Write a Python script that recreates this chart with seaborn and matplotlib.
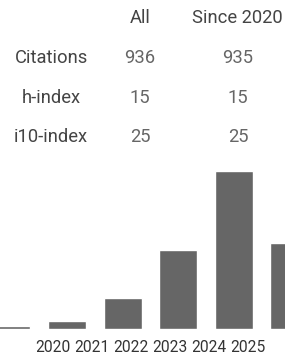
import matplotlib
matplotlib.use("Agg")
import matplotlib.pyplot as plt
import seaborn as sns
import pandas as pd

years = ["2020", "2021", "2022", "2023", "2024", "2025"]
citations = [9, 20, 81, 201, 403, 221]

row_labels = ["Citations", "h-index", "i10-index"]
col_labels = ["All", "Since 2020"]
all_vals = ["936", "15", "25"]
since_vals = ["935", "15", "25"]

sns.set_theme(style="white")
plt.rcParams["font.family"] = ["Roboto", "DejaVu Sans"]

W, H = 285, 356
fig = plt.figure(figsize=(W / 100, H / 100), dpi=100)
fig.patch.set_facecolor("white")

# table
def fx(px):
    return px / W

def fy(py):
    return 1 - py / H

tsize = 13.2
fig.text(fx(140), fy(18), col_labels[0], ha="center", va="center", fontsize=tsize, color="#444444")
fig.text(fx(237), fy(18), col_labels[1], ha="center", va="center", fontsize=tsize, color="#444444")
row_y = [58, 98, 137]
for lab, a, s, y in zip(row_labels, all_vals, since_vals, row_y):
    fig.text(fx(51), fy(y), lab, ha="center", va="center", fontsize=tsize, color="#444444")
    fig.text(fx(140), fy(y), a, ha="center", va="center", fontsize=tsize, color="#666666")
    fig.text(fx(238), fy(y), s, ha="center", va="center", fontsize=tsize, color="#666666")

# bars
base_px = 329.3
top_px = 171.3
ax = fig.add_axes([0, (H - base_px) / H, 1, (base_px - top_px) / H])
df = pd.DataFrame({"year": years, "citations": citations})
sns.barplot(data=df, x="year", y="citations", order=years, color="#666666",
            saturation=1, width=0.68, ax=ax)
pitch = 55.6
c0 = 11.4
ax.set_xlim((0 - c0) / pitch, (W - c0) / pitch)
ax.set_ylim(0, max(citations))
for sp in ax.spines.values():
    sp.set_visible(False)
ax.set_yticks([])
ax.set_xlabel("")
ax.set_ylabel("")
ax.set_facecolor("none")
lab_px = [52.5 + 39 * i for i in range(len(years))]
ax.set_xticks([(p - c0) / pitch for p in lab_px])
ax.set_xticklabels(years)
ax.tick_params(axis="x", length=0, pad=8, labelsize=11.2, labelcolor="#333333")

fig.savefig("out.png", dpi=100, facecolor="white")
